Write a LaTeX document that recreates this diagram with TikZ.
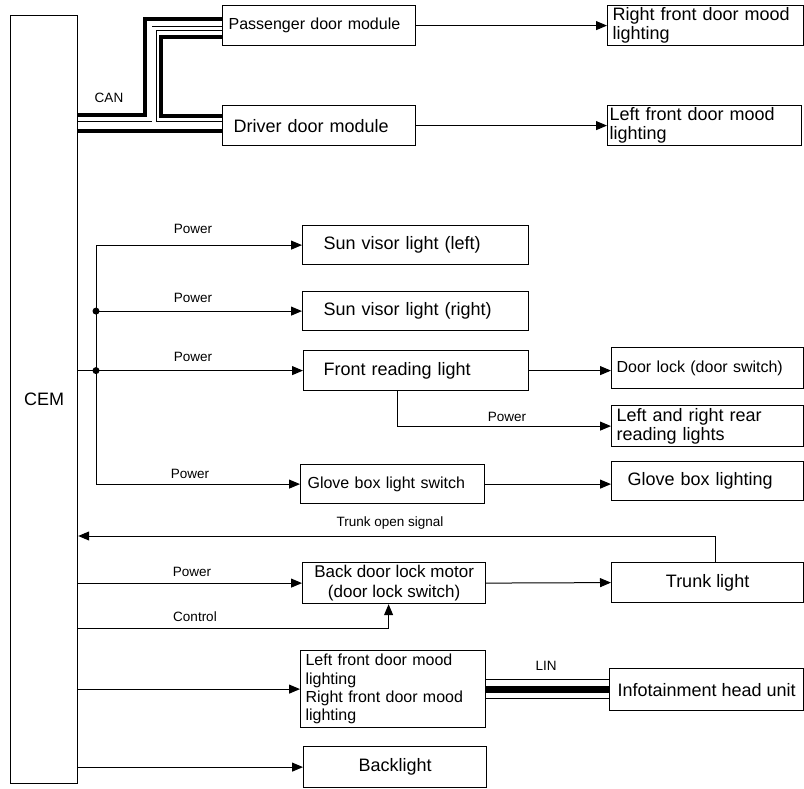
\documentclass[tikz,border=0pt]{standalone}
\usepackage{fontspec}
\setmainfont{Liberation Sans}
\usetikzlibrary{arrows.meta}
\begin{document}
\begin{tikzpicture}[x=1pt,y=-1pt,
  box/.style={draw,rectangle,line width=1.2pt,inner sep=0pt,anchor=north west,font=\fontsize{18}{19}\selectfont},
  mid/.style={font=\fontsize{16}{18.3}\selectfont},
  lbl/.style={font=\fontsize{13.5}{14}\selectfont},
  wire/.style={line width=1pt,-{Triangle[length=11pt,width=9pt]}},
  canh/.style={line width=4pt},
  canl/.style={double,line width=0.9pt,double distance=3.2pt}]
\useasboundingbox (0,0) rectangle (804,789);
\node[box,minimum width=67pt,minimum height=768pt] (cem) at (10,15) {CEM};
\node[box,mid,text width=181pt,inner xsep=6pt,align=left,minimum height=40pt] (pdm) at (222,5) {Passenger door module};
\node[box,text width=171pt,inner xsep=11pt,align=left,minimum height=40pt] (ddm) at (222,105) {Driver door module};
\node[box,text width=186pt,inner xsep=5pt,align=left,minimum height=40pt] (rfm) at (607,5) {Right front door mood\\lighting};
\node[box,text width=190pt,inner xsep=2pt,align=left,minimum height=40pt] (lfm) at (607,105) {Left front door mood\\lighting};
\node[box,text width=184pt,inner xsep=21pt,align=left,minimum height=39pt] (svl) at (302,225) {Sun visor light (left)};
\node[box,text width=184pt,inner xsep=21pt,align=left,minimum height=39pt] (svr) at (302,291) {Sun visor light (right)};
\node[box,text width=185pt,inner xsep=20pt,align=left,minimum height=40pt] (frl) at (303,350) {Front reading light};
\node[box,mid,text width=182pt,inner xsep=5pt,align=left,minimum height=41pt] (dls) at (611,347) {Door lock (door switch)};
\node[box,text width=182pt,inner xsep=5pt,align=left,minimum height=41pt] (rrl) at (611,405) {Left and right rear\\reading lights};
\node[box,mid,text width=170pt,inner xsep=7pt,align=left,minimum height=39pt] (gbs) at (300,464) {Glove box light switch};
\node[box,text width=160pt,inner xsep=16pt,align=left,minimum height=39pt] (gbl) at (611,461) {Glove box lighting};
\node[box,align=center,font=\fontsize{17}{20}\selectfont,minimum width=183pt,minimum height=41pt] (bdl) at (302,562) {Back door lock motor\\(door lock switch)};
\node[box,minimum width=192pt,minimum height=40pt] (tl) at (611,562) {Trunk light};
\node[box,mid,text width=175pt,inner xsep=5pt,align=left,minimum height=77pt] (mood) at (300,650) {Left front door mood\\lighting\\Right front door mood\\lighting};
\node[box,minimum width=194pt,minimum height=42pt] (ihu) at (609,668) {Infotainment head unit};
\node[box,minimum width=183pt,minimum height=41pt] (bkl) at (303,746) {Backlight};
% CAN
\draw[canh] (cem.east |- 0,115) -| ([xshift=-77pt,yshift=7pt]pdm.west) -- ([yshift=7pt]pdm.west);
\draw[canl] ([yshift=-3pt]pdm.west) -| (154,124) (cem.east |- 0,124) -- (ddm.west |- 0,124);
\draw[canh] ([yshift=-11pt]pdm.west) -| ([xshift=-61pt,yshift=10pt]ddm.west) -- ([yshift=10pt]ddm.west);
\draw[canh] (cem.east |- 0,131) -- (ddm.west |- 0,131);
\node[lbl] (can) at (109,98) {CAN};
\draw[wire] (pdm.east) -- (rfm.west);
\draw[wire] (ddm.east) -- (lfm.west);
% power
\coordinate (ptop) at (svl.west -| 96,0);
\coordinate (pbot) at (gbs.west -| 96,0);
\draw[line width=1pt] (ptop) -- (pbot);
\draw[wire] (ptop) -- (svl.west);
\draw[wire] (ptop |- svr.west) -- (svr.west);
\draw[wire] (cem.east |- frl.west) -- (frl.west);
\draw[wire] (pbot) -- (gbs.west);
\fill (ptop |- svr.west) circle (3.5pt);
\fill (ptop |- frl.west) circle (3.5pt);
\node[lbl] (pw1) at (193,229) {Power};
\node[lbl] (pw2) at (193,298) {Power};
\node[lbl] (pw3) at (193,357) {Power};
\node[lbl] (pw4) at (190,474) {Power};
\draw[wire] (frl.east) -- (frl.east -| dls.west);
\draw[wire] (frl.south -| 397,0) |- (rrl.west);
\node[lbl] (pw5) at (507,417) {Power};
\draw[wire] (gbs.east) -- (gbs.east -| gbl.west);
% trunk
\draw[wire] ([xshift=8pt]tl.north) |- (cem.east |- 0,536);
\node[lbl] (tos) at (390,523) {Trunk open signal};
\draw[wire] (cem.east |- bdl.west) -- (bdl.west);
\node[lbl] (pw6) at (192,572) {Power};
\draw[wire] (cem.east |- 0,628) -| ([xshift=-5.5pt]bdl.south);
\node[lbl] (ctl) at (195,617) {Control};
\draw[wire] (bdl.east) -- (tl.west);
% LIN
\draw[wire] (cem.east |- mood.west) -- (mood.west);
\draw[line width=1pt,double,double distance=18pt] (mood.east) -- (mood.east -| ihu.west);
\draw[line width=7pt] (mood.east) -- (mood.east -| ihu.west);
\node[lbl] (lin) at (546,666) {LIN};
\draw[wire] (cem.east |- bkl.west) -- (bkl.west);
\end{tikzpicture}
\end{document}
